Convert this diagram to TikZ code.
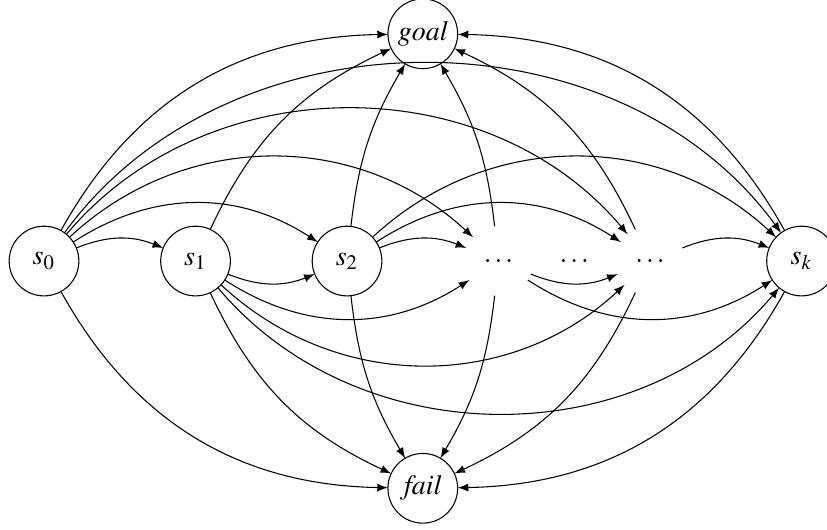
\documentclass[tikz,border=0pt]{standalone}
\usepackage{mathptmx}
\begin{document}
\begin{tikzpicture}[x=2cm, y=2cm, >=latex,
    state/.style={circle, draw, outer sep=0, inner sep=0, minimum size=0.92cm, font=\fontsize{10.5}{12}\selectfont},
    gap/.style={circle, outer sep=0, inner sep=0, minimum size=0.92cm, font=\fontsize{10.5}{12}\selectfont}]
        \useasboundingbox (-0.2905,-1.769) rectangle (5.168,1.723);

        \draw node [state] (st-0) at (0,0) {$s_0$};

        \draw node [state] (st-1) at (1,0) {$s_1$};

        \draw node [state] (st-2) at (2,0) {$s_2$};

        \draw node [gap] (dots-a) at (3,0) {$\dots$};

        \draw node [gap] (dots-b) at (3.5,0) {$\dots$};

        \draw node [gap] (dots-c) at (4,0) {$\dots$};

        \draw node [state] (st-k) at (5,0) {$s_k$};

        \draw node [state] (goal) at (2.5,1.5) {$\mathit{goal}$};

        \draw node [state] (fail) at (2.5,-1.5) {$\mathit{fail}$};

        % forward, above the row
        \draw [->] (st-0) to [bend left=22] (st-1);
        \draw [->] (st-0) to [bend left=33] (st-2);
        \draw [->] (st-0) to [bend left=43] (dots-a);
        \draw [->] (st-0) to [bend left=50] (dots-c);
        \draw [->] (st-0) to [bend left=54] (st-k);
        \draw [->] (st-2) to [bend left=22] (dots-a);
        \draw [->] (st-2) to [bend left=33] (dots-c);
        \draw [->] (st-2) to [bend left=43] (st-k);
        \draw [->] (dots-c) to [bend left=22] (st-k);

        % forward, below the row
        \draw [->] (st-1) to [bend right=22] (st-2);
        \draw [->] (st-1) to [bend right=33] (dots-a);
        \draw [->] (st-1) to [bend right=43] (dots-c);
        \draw [->] (st-1) to [bend right=50] (st-k);
        \draw [->] (dots-a) to [bend right=22] (dots-c);
        \draw [->] (dots-a) to [bend right=33] (st-k);

        % into goal
        \draw [->] (st-0) to [bend left=30] (goal);
        \draw [->] (st-1) to [bend left=20] (goal);
        \draw [->] (st-2) to [bend left=12] (goal);
        \draw [->] (dots-a) to [bend right=12] (goal);
        \draw [->] (dots-c) to [bend right=20] (goal);
        \draw [->] (st-k) to [bend right=30] (goal);

        % into fail
        \draw [->] (st-0) to [bend right=30] (fail);
        \draw [->] (st-1) to [bend right=20] (fail);
        \draw [->] (st-2) to [bend right=12] (fail);
        \draw [->] (dots-a) to [bend left=12] (fail);
        \draw [->] (dots-c) to [bend left=20] (fail);
        \draw [->] (st-k) to [bend left=30] (fail);
\end{tikzpicture}
\end{document}
